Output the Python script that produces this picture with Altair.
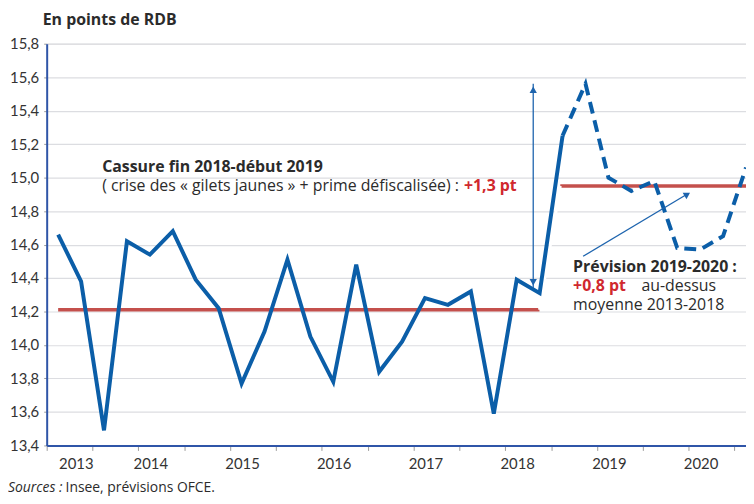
import altair as alt
import pandas as pd

FONT = "Lato"
AFONT = "Open Sans"
BLUE = "#0b5ea8"
RED_LINE = "#c4504c"
RED_TXT = "#d0282e"
TXT = "#2b2b2b"

years = [2013, 2014, 2015, 2016, 2017, 2018, 2019, 2020]
# observed quarterly values, 2013Q1 .. 2018Q3
observed = [14.66, 14.38, 13.49, 14.62,
            14.54, 14.68, 14.39, 14.22,
            13.77, 14.08, 14.51, 14.05,
            13.78, 14.48, 13.84, 14.02,
            14.28, 14.24, 14.32, 13.59,
            14.39, 14.31, 15.25]
# forecast, 2018Q3 .. 2020Q3
forecast = [15.25, 15.56, 15.00, 14.92, 14.98, 14.58, 14.57, 14.65, 15.06]

mean_2013_2018 = 14.21
mean_2019_2020 = 14.95

quarter_pos = [y + q / 4 for y in years for q in range(4)]
obs_df = pd.DataFrame({"t": quarter_pos[:len(observed)], "v": observed})
fc_df = pd.DataFrame({"t": quarter_pos[len(observed) - 1:len(observed) - 1 + len(forecast)], "v": forecast})

means_df = pd.DataFrame({"t": [2013.0, 2018.475], "t2": [2018.248, 2020.5],
                         "v": [mean_2013_2018, mean_2019_2020]})
white_df = pd.DataFrame({"t": [2018.248], "t2": [2018.475],
                         "v": [mean_2013_2018], "v2": [mean_2019_2020]})

x_ticks = [2012.875 + 0.5 * k for k in range(16)]
y_ticks = [round(13.4 + 0.2 * k, 1) for k in range(13)]

xs = alt.Scale(domain=[2012.875, 2020.5], nice=False, zero=False)
ys = alt.Scale(domain=[13.4, 15.8], nice=False, zero=False)

X = alt.X("t:Q", scale=xs, title=None,
          axis=alt.Axis(values=x_ticks,
                        labelExpr="datum.value % 1 > 0.8 ? toString(floor(datum.value) + 1) : ''",
                        labelOffset=12, labelOverlap=False, labelFont=FONT, labelFontSize=15,
                        labelColor="#333333", tickColor="#9a9a9a", tickSize=5, tickWidth=1,
                        domainColor="#2f55a8", domainWidth=2, grid=False, labelPadding=6))
Y = alt.Y("v:Q", scale=ys, title=None,
          axis=alt.Axis(values=y_ticks, tickCount=13, labelOverlap=False,
                        labelExpr="replace(format(datum.value, '.1f'), '.', ',')",
                        labelFont=FONT, labelFontSize=15, labelColor="#333333",
                        tickColor="#9a9a9a", tickSize=3, domainColor="#2f55a8", domainWidth=2,
                        grid=True, gridColor="#dcdde1", gridWidth=1.2, labelPadding=5))

base_means = alt.Chart(means_df).mark_rule(color=RED_LINE, strokeWidth=3.5).encode(
    x=X, x2="t2:Q", y=Y)
white = alt.Chart(white_df).mark_rule(color="white", strokeWidth=3).encode(
    x="t:Q", x2="t2:Q", y="v:Q", y2="v2:Q")
line_obs = alt.Chart(obs_df).mark_line(color=BLUE, strokeWidth=4, strokeJoin="miter").encode(
    x="t:Q", y="v:Q")
line_fc = alt.Chart(fc_df).mark_line(color=BLUE, strokeWidth=4, strokeDash=[12, 7],
                                     strokeJoin="miter").encode(x="t:Q", y="v:Q")

# arrows
varrow_df = pd.DataFrame({"t": [2018.18], "v": [14.34], "v2": [15.56]})
varrow = alt.Chart(varrow_df).mark_rule(color="#1d64ae", strokeWidth=1.3).encode(
    x="t:Q", y="v:Q", y2="v2:Q")
heads_df = pd.DataFrame({"t": [2018.18, 2018.18, 2019.86], "v": [15.525, 14.375, 14.90],
                         "a": [0, 180, 59]})
heads = alt.Chart(heads_df).mark_point(shape="triangle-up", filled=True, color="#1d64ae",
                                       size=55, opacity=1).encode(
    x="t:Q", y="v:Q", angle=alt.Angle("a:Q", scale=None))
darrow_df = pd.DataFrame({"t": [2018.724], "t2": [2019.87], "v": [14.53], "v2": [14.905]})
darrow = alt.Chart(darrow_df).mark_rule(color="#1d64ae", strokeWidth=1.3).encode(
    x="t:Q", x2="t2:Q", y="v:Q", y2="v2:Q")


def txt(df, **kw):
    return alt.Chart(df).mark_text(font=AFONT, fontSize=16, align="left", baseline="middle",
                                   **kw).encode(x="t:Q", y="v:Q", text="s:N")


bold_dark = pd.DataFrame({"t": [2013.48, 2018.615], "v": [15.065, 14.466],
                          "s": ["Cassure fin 2018-début 2019", "Prévision 2019-2020 :"]})
norm_dark = pd.DataFrame({"t": [2013.48, 2019.36, 2018.615], "v": [14.947, 14.354, 14.236],
                          "s": ["( crise des « gilets jaunes » + prime défiscalisée) :",
                                "au-dessus", "moyenne 2013-2018"]})
bold_red = pd.DataFrame({"t": [2017.425, 2018.615], "v": [14.947, 14.354],
                         "s": ["+1,3 pt", "+0,8 pt"]})

t1 = txt(bold_dark, fontWeight="bold", color=TXT)
t2 = txt(norm_dark, color=TXT)
t3 = txt(bold_red, fontWeight="bold", color=RED_TXT)

title_df = pd.DataFrame({"s": ["En points de RDB"]})
title = alt.Chart(title_df).mark_text(font=AFONT, fontSize=16, fontWeight="bold", color=TXT,
                                      align="left", baseline="alphabetic").encode(
    x=alt.value(-4), y=alt.value(-19), text="s:N")
src1 = alt.Chart(pd.DataFrame({"s": ["Sources :"]})).mark_text(
    font=AFONT, fontSize=14, fontStyle="italic", color=TXT, align="left", baseline="alphabetic").encode(
    x=alt.value(-39), y=alt.value(452), text="s:N")
src2 = alt.Chart(pd.DataFrame({"s": ["Insee, prévisions OFCE."]})).mark_text(
    font=AFONT, fontSize=14, color=TXT, align="left", baseline="alphabetic").encode(
    x=alt.value(19), y=alt.value(452), text="s:N")

chart = alt.layer(base_means, white, line_obs, line_fc, varrow, darrow, heads,
                  t1, t2, t3, title, src1, src2).properties(
    width=705, height=405,
    autosize="none",
    padding={"left": 39, "top": 34, "right": 0, "bottom": 50},
).configure_view(fill="#f0f1f4", stroke=None).configure(background="white")

chart.save("out.html", embed_options={"renderer": "svg", "actions": False})
